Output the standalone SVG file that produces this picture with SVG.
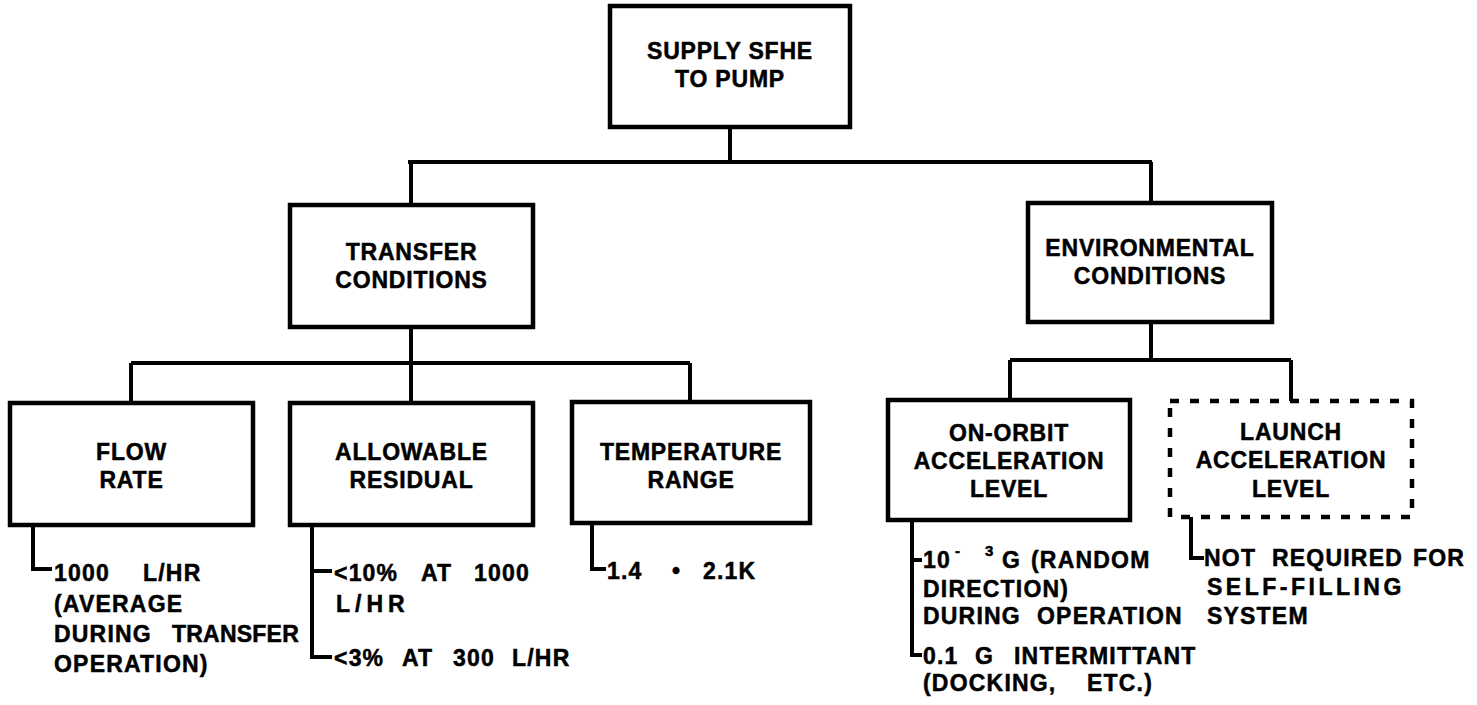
<svg xmlns="http://www.w3.org/2000/svg" width="1477" height="705" viewBox="0 0 1477 705">
<style>
  .box { fill: #fff; stroke: #000; stroke-width: 4.5; }
  .dash { fill: none; stroke: #000; stroke-width: 4.5; stroke-dasharray: 9 11; }
  .ln { fill: none; stroke: #000; stroke-width: 4; stroke-linejoin: miter; }
  text { font-family: "Liberation Sans", Arial, sans-serif; font-weight: bold; font-size: 23px; fill: #000; stroke: #000; stroke-width: 0.5px; }
  .c { text-anchor: middle; letter-spacing: 0.8px; }
  .t { letter-spacing: 1.2px; }
  .sup { font-size: 15px; }
</style>
<rect width="1477" height="705" fill="#fff"/>
<g id="connectors">
  <path class="ln" d="M730 127 V162 M408 162 H1152 M411 162 V205 M1151 162 V203"/>
  <path class="ln" d="M411 327 V363 M131 363 H690 M131 363 V403 M411 363 V403 M690 363 V402"/>
  <path class="ln" d="M1151 322 V360 M1010 360 H1291 M1010 360 V400 M1291 360 V401"/>
  <path class="ln" d="M33 525 V569 H52"/>
  <path class="ln" d="M312 525 V657 H332 M312 571 H332"/>
  <path class="ln" d="M592 523 V569 H606"/>
  <path class="ln" d="M912 520 V655 H922 M912 560 H922"/>
  <path class="ln" d="M1191 517 V558 H1204"/>
</g>
<g id="n-supply">
  <rect class="box" x="610" y="6" width="240" height="121"/>
  <text class="c" x="730" y="59">SUPPLY SFHE</text>
  <text class="c" x="730" y="87">TO PUMP</text>
</g>
<g id="n-transfer">
  <rect class="box" x="290" y="205" width="243" height="122"/>
  <text class="c" x="411.5" y="260">TRANSFER</text>
  <text class="c" x="411.5" y="288">CONDITIONS</text>
</g>
<g id="n-environmental">
  <rect class="box" x="1028" y="203" width="244" height="119"/>
  <text class="c" x="1150" y="256">ENVIRONMENTAL</text>
  <text class="c" x="1150" y="284">CONDITIONS</text>
</g>
<g id="n-flow">
  <rect class="box" x="10" y="403" width="243" height="122"/>
  <text class="c" x="131.5" y="460">FLOW</text>
  <text class="c" x="131.5" y="488">RATE</text>
  <text class="t" y="581"><tspan x="54">1000</tspan><tspan x="143">L/HR</tspan></text>
  <text class="t" x="54" y="612">(AVERAGE</text>
  <text class="t" y="642"><tspan x="54">DURING</tspan><tspan x="172" textLength="128" lengthAdjust="spacing">TRANSFER</tspan></text>
  <text class="t" x="54" y="672">OPERATION)</text>
</g>
<g id="n-allowable">
  <rect class="box" x="290" y="403" width="243" height="122"/>
  <text class="c" x="411.5" y="460">ALLOWABLE</text>
  <text class="c" x="411.5" y="488">RESIDUAL</text>
  <text class="t" y="581"><tspan x="334">&lt;10%</tspan><tspan x="421">AT</tspan><tspan x="474">1000</tspan></text>
  <text x="336" y="612" letter-spacing="5">L/HR</text>
  <text class="t" y="666"><tspan x="334">&lt;3%</tspan><tspan x="402">AT</tspan><tspan x="453">300</tspan><tspan x="512">L/HR</tspan></text>
</g>
<g id="n-temperature">
  <rect class="box" x="572" y="402" width="238" height="121"/>
  <text class="c" x="691" y="460">TEMPERATURE</text>
  <text class="c" x="691" y="488">RANGE</text>
  <text class="t" y="579"><tspan x="607">1.4</tspan><tspan x="672">•</tspan><tspan x="703">2.1K</tspan></text>
</g>
<g id="n-onorbit">
  <rect class="box" x="888" y="400" width="242" height="120"/>
  <text class="c" x="1009" y="441">ON-ORBIT</text>
  <text class="c" x="1009" y="469">ACCELERATION</text>
  <text class="c" x="1009" y="497">LEVEL</text>
  <text class="t" y="568"><tspan x="923">10</tspan><tspan x="955" y="556" class="sup">-</tspan><tspan x="985" y="556" class="sup">3</tspan><tspan x="1002" y="568">G</tspan><tspan x="1031">(RANDOM</tspan></text>
  <text class="t" x="923" y="597">DIRECTION)</text>
  <text class="t" y="624"><tspan x="923">DURING</tspan><tspan x="1037">OPERATION</tspan></text>
  <text class="t" y="664"><tspan x="923">0.1</tspan><tspan x="975">G</tspan><tspan x="1014">INTERMITTANT</tspan></text>
  <text class="t" y="691"><tspan x="923">(DOCKING,</tspan><tspan x="1087">ETC.)</tspan></text>
</g>
<g id="n-launch">
  <rect class="dash" x="1170" y="401" width="242" height="116"/>
  <text class="c" x="1291" y="440">LAUNCH</text>
  <text class="c" x="1291" y="468">ACCELERATION</text>
  <text class="c" x="1291" y="497">LEVEL</text>
  <text class="t" y="566"><tspan x="1204">NOT</tspan><tspan x="1272">REQUIRED</tspan><tspan x="1413">FOR</tspan></text>
  <text x="1207" y="595" letter-spacing="3.5">SELF-FILLING</text>
  <text class="t" x="1207" y="624">SYSTEM</text>
</g>
</svg>
